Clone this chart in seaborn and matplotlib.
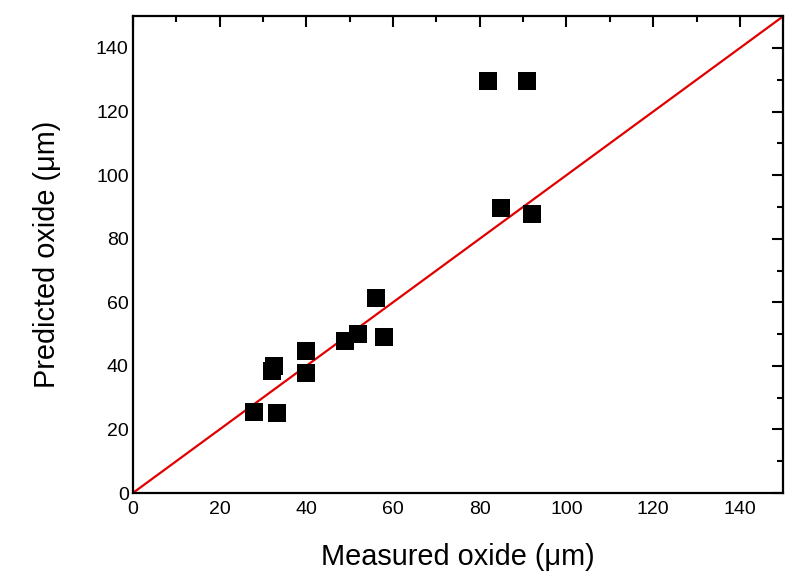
import matplotlib
matplotlib.use("Agg")
import matplotlib.pyplot as plt
import seaborn as sns
import pandas as pd
import numpy as np
from matplotlib.ticker import MultipleLocator

measured = [28, 33.2, 32, 32.5, 40, 40, 49, 52, 56, 58, 82, 91, 85, 92]
predicted = [25.6, 25.2, 38.5, 40.0, 44.6, 37.7, 47.9, 50.0, 61.5, 49.0, 129.7, 129.7, 89.6, 87.8]
line_x = [0, 150]
line_y = [0, 150]
x_ticks = [0, 20, 40, 60, 80, 100, 120, 140]
y_ticks = [0, 20, 40, 60, 80, 100, 120, 140]

sns.set_theme(style="white")
plt.rcParams['font.family'] = ['Liberation Sans', 'DejaVu Sans']

df = pd.DataFrame({"measured": measured, "predicted": predicted})

fig = plt.figure(figsize=(8.1, 5.79), dpi=100)
ax = fig.add_axes([0.164, 0.1485, 0.803, 0.8235])

sns.lineplot(x=line_x, y=line_y, ax=ax, color="#e00000", linewidth=1.6, zorder=2)
sns.scatterplot(data=df, x="measured", y="predicted", ax=ax, marker="s", s=150,
                color="black", edgecolor="black", linewidth=0, zorder=3)

ax.set_xlim(0, 150)
ax.set_ylim(0, 150)
ax.set_xticks(x_ticks)
ax.set_yticks(y_ticks)
ax.xaxis.set_minor_locator(MultipleLocator(10))
ax.yaxis.set_minor_locator(MultipleLocator(10))
ax.tick_params(which="major", direction="in", length=8, width=1.5, top=True, right=True,
               labelsize=14, colors="black")
ax.tick_params(which="minor", direction="in", length=4.5, width=1.5, top=True, right=True,
               colors="black")
ax.tick_params(axis="x", which="major", pad=6)
ax.tick_params(axis="y", which="major", pad=3)
for s in ax.spines.values():
    s.set_linewidth(1.6)
    s.set_color("black")
    s.set_visible(True)

ax.set_xlabel("Measured oxide (\u03bcm)", fontsize=20.8, labelpad=18, color="black")
ax.set_ylabel("Predicted oxide (\u03bcm)", fontsize=20.8, labelpad=25, color="black")

fig.savefig("out.png", dpi=100)
